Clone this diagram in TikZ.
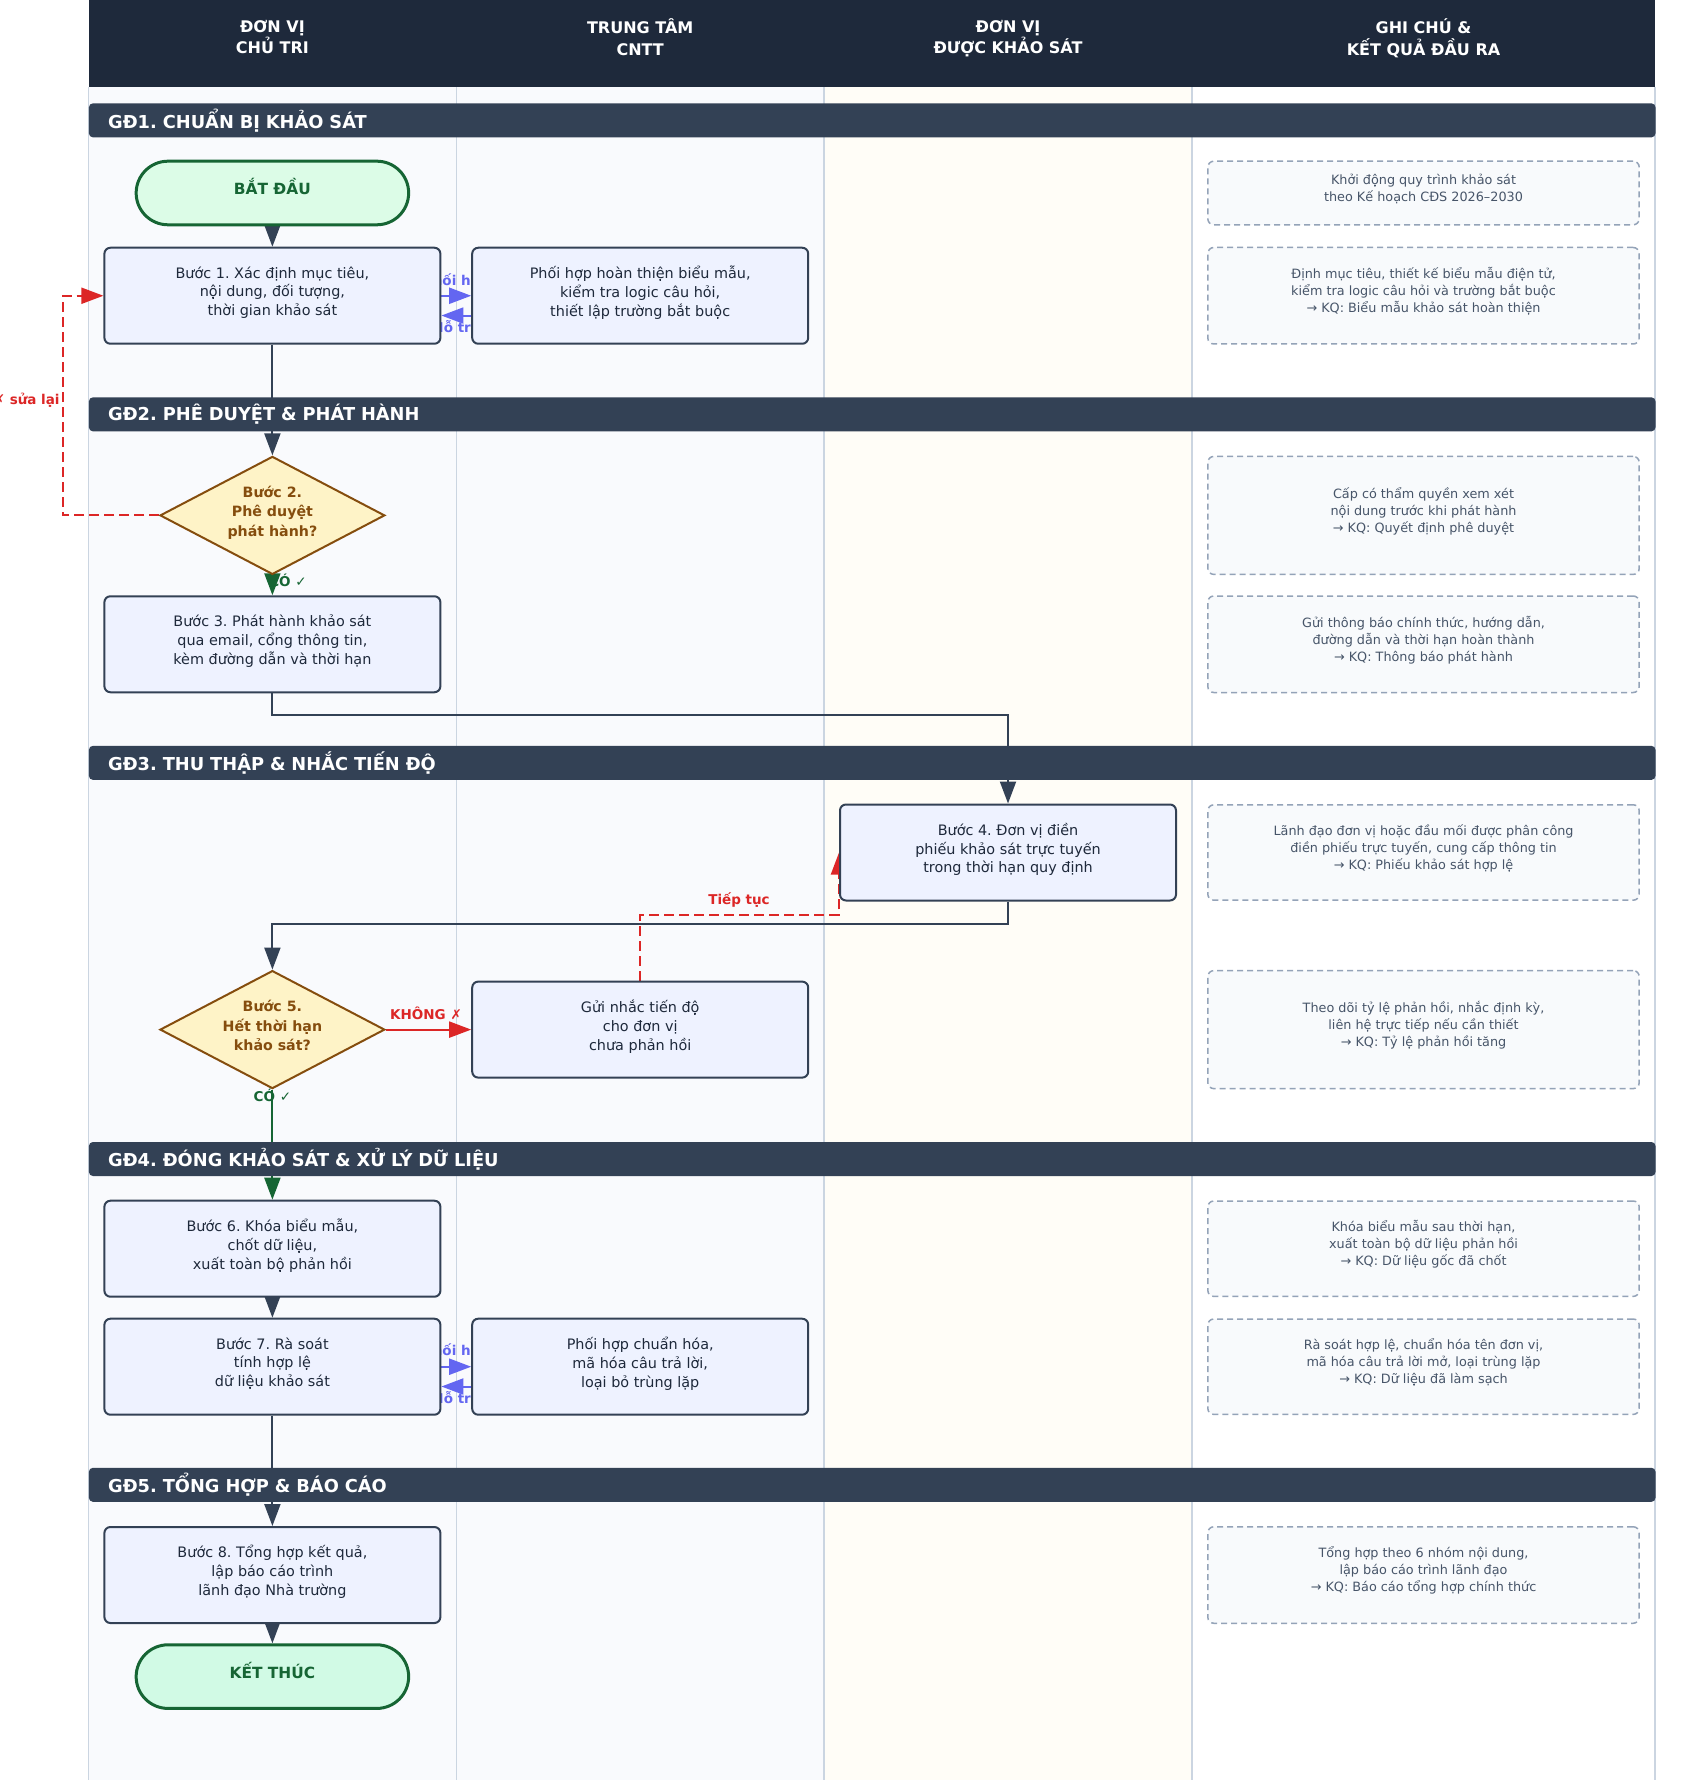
\documentclass[tikz,border=0pt]{standalone}
\usepackage{fontspec}
\setmainfont{DejaVu Sans}
\newfontfamily\symf{DejaVu Sans}
\usetikzlibrary{arrows.meta,shapes.geometric,calc}
\frenchspacing
\definecolor{hdr}{HTML}{1E293B}
\definecolor{barc}{HTML}{334155}
\definecolor{boxfill}{HTML}{EEF2FF}
\definecolor{boxline}{HTML}{334155}
\definecolor{boxtext}{HTML}{1E293B}
\definecolor{notefill}{HTML}{F8FAFC}
\definecolor{noteline}{HTML}{94A3B8}
\definecolor{notetext}{HTML}{475569}
\definecolor{decfill}{HTML}{FEF3C7}
\definecolor{decline}{HTML}{854D0E}
\definecolor{termfill}{HTML}{DCFCE7}
\definecolor{endfill}{HTML}{D1FAE5}
\definecolor{termline}{HTML}{166534}
\definecolor{xred}{HTML}{DC2626}
\definecolor{indi}{HTML}{6366F1}
\definecolor{lanebg}{HTML}{F9FAFD}
\definecolor{lanec}{HTML}{FFFDF7}
\definecolor{divider}{HTML}{CBD5E1}
\pgfdeclarelayer{lanes}
\pgfdeclarelayer{links}
\pgfsetlayers{lanes,links,main}
\begin{document}
\begin{tikzpicture}[x=0.5pt,y=-0.5pt,
  evenlines/.style 2 args={execute at begin node={\rule{0pt}{#1}},
    execute at end node={\rule[-#2]{0pt}{0pt}}},
  pbox/.style={evenlines={0pt}{4.6pt}, draw=boxline, fill=boxfill, line width=1pt, rounded corners=3pt,
    minimum width=168pt, minimum height=48pt, inner sep=0pt, align=center,
    text=boxtext, font=\fontsize{7.2}{9.4}\selectfont},
  note/.style={evenlines={0pt}{5.6pt}, draw=noteline, dash pattern=on 3pt off 2pt, fill=notefill, line width=0.75pt,
    rounded corners=3pt, minimum width=215.7pt, inner sep=0pt, align=center,
    text=notetext, font=\fontsize{6.4}{8.5}\selectfont},
  dec/.style={evenlines={0pt}{4.1pt}, diamond, shape aspect=1.9, draw=decline, fill=decfill, line width=1pt,
    minimum width=112.4pt, minimum height=59pt, inner sep=0pt, align=center,
    text=decline, font=\bfseries\fontsize{7.1}{9.65}\selectfont},
  term/.style={evenlines={7.5pt}{6.5pt}, draw=termline, fill=termfill, line width=1.5pt, rounded corners=15.9pt,
    minimum width=136.25pt, minimum height=31.8pt, inner sep=0pt,
    text=termline, font=\bfseries\fontsize{7.7}{9}\selectfont},
  phase/.style={fill=barc, rounded corners=2pt, anchor=west, minimum height=17pt,
    inner xsep=9.65pt, inner ysep=0pt, text width=764pt, align=left,
    text=white, font=\bfseries\fontsize{8.9}{10}\selectfont},
  head/.style={evenlines={7.5pt}{6.5pt}, align=center, inner sep=0pt, text=white, font=\bfseries\fontsize{8}{10.8}\selectfont},
  lbl/.style={font=\bfseries\fontsize{6.75}{8}\selectfont, inner sep=0pt},
  conn/.style={draw=barc, line width=1pt, -{Triangle[length=11pt,width=8pt]}},
  yesln/.style={draw=termline, line width=1pt, -{Triangle[length=11pt,width=8pt]}},
  nol/.style={draw=xred, line width=1pt, -{Triangle[length=11pt,width=8pt]}},
  nodash/.style={draw=xred, line width=1pt, dash pattern=on 5pt off 2.5pt, -{Triangle[length=11pt,width=8pt]}},
  coop/.style={draw=indi, line width=1pt, -{Triangle[length=11pt,width=8pt]}}
]
\useasboundingbox (0,0) rectangle (1688,1780);
\begin{pgfonlayer}{lanes}
  \fill[white] (0,0) rectangle (1688,1780);
  \fill[lanebg] (88.5,87.4) rectangle (824.1,1780);
  \fill[lanec] (824.1,87.4) rectangle (1191.9,1780);
  \fill[white] (1191.9,87.4) rectangle (1655.1,1780);
  \foreach \x in {88.5,456.3,824.1,1191.9,1655.1}
    \draw[divider, line width=0.75pt] (\x,87.4) -- (\x,1780);
  \fill[hdr] (88.5,0) rectangle (1655.1,87.4);
\end{pgfonlayer}

% header
\node[head] (h1) at (272.4,43.3) {ĐƠN VỊ\\CHỦ TRI};
\node[head] (h2) at (640.2,43.3) {TRUNG TÂM\\CNTT};
\node[head] (h3) at (1008,43.3) {ĐƠN VỊ\\ĐƯỢC KHẢO SÁT};
\node[head] (h4) at (1423.5,43.3) {GHI CHÚ \&\\KẾT QUẢ ĐẦU RA};

% phase bars
\node[phase] (g1) at (88.5,120.35) {GĐ1. CHUẨN BỊ KHẢO SÁT};
\node[phase] (g2) at (88.5,414.35) {GĐ2. PHÊ DUYỆT \& PHÁT HÀNH};
\node[phase] (g3) at (88.5,762.85) {GĐ3. THU THẬP \& NHẮC TIẾN ĐỘ};
\node[phase] (g4) at (88.5,1159) {GĐ4. ĐÓNG KHẢO SÁT \& XỬ LÝ DỮ LIỆU};
\node[phase] (g5) at (88.5,1484.8) {GĐ5. TỔNG HỢP \& BÁO CÁO};

% process nodes
\node[term] (start) at (272.4,193) {BẮT ĐẦU};
\node[pbox] (b1) at (272.4,295.75) {Bước 1. Xác định mục tiêu,\\nội dung, đối tượng,\\thời gian khảo sát};
\node[pbox] (c1) at (640.2,295.75) {Phối hợp hoàn thiện biểu mẫu,\\kiểm tra logic câu hỏi,\\thiết lập trường bắt buộc};
\node[dec] (d2) at (272.4,515.4) {Bước 2.\\Phê duyệt\\phát hành?};
\node[pbox] (b3) at (272.4,644.25) {Bước 3. Phát hành khảo sát\\qua email, cổng thông tin,\\kèm đường dẫn và thời hạn};
\node[pbox] (b4) at (1008,852.5) {Bước 4. Đơn vị điền\\phiếu khảo sát trực tuyến\\trong thời hạn quy định};
\node[dec] (d5) at (272.4,1029.6) {Bước 5.\\Hết thời hạn\\khảo sát?};
\node[pbox] (rm) at (640.2,1029.6) {Gửi nhắc tiến độ\\cho đơn vị\\chưa phản hồi};
\node[pbox] (b6) at (272.4,1248.7) {Bước 6. Khóa biểu mẫu,\\chốt dữ liệu,\\xuất toàn bộ phản hồi};
\node[pbox] (b7) at (272.4,1366.7) {Bước 7. Rà soát\\tính hợp lệ\\dữ liệu khảo sát};
\node[pbox] (c7) at (640.2,1366.7) {Phối hợp chuẩn hóa,\\mã hóa câu trả lời,\\loại bỏ trùng lặp};
\node[pbox] (b8) at (272.4,1575) {Bước 8. Tổng hợp kết quả,\\lập báo cáo trình\\lãnh đạo Nhà trường};
\node[term, fill=endfill] (end) at (272.4,1676.6) {KẾT THÚC};

% notes
\node[note, minimum height=31.8pt] (n0) at (1423.5,193) {Khởi động quy trình khảo sát\\theo Kế hoạch CĐS 2026–2030};
\node[note, minimum height=48.25pt] (n1) at (1423.5,295.75) {Định mục tiêu, thiết kế biểu mẫu điện tử,\\kiểm tra logic câu hỏi và trường bắt buộc\\→ KQ: Biểu mẫu khảo sát hoàn thiện};
\node[note, minimum height=59pt] (n2) at (1423.5,515.4) {Cấp có thẩm quyền xem xét\\nội dung trước khi phát hành\\→ KQ: Quyết định phê duyệt};
\node[note, minimum height=48.25pt] (n3) at (1423.5,644.25) {Gửi thông báo chính thức, hướng dẫn,\\đường dẫn và thời hạn hoàn thành\\→ KQ: Thông báo phát hành};
\node[note, minimum height=47.7pt] (n4) at (1423.5,852.5) {Lãnh đạo đơn vị hoặc đầu mối được phân công\\điền phiếu trực tuyến, cung cấp thông tin\\→ KQ: Phiếu khảo sát hợp lệ};
\node[note, minimum height=59pt] (n5) at (1423.5,1029.6) {Theo dõi tỷ lệ phản hồi, nhắc định kỳ,\\liên hệ trực tiếp nếu cần thiết\\→ KQ: Tỷ lệ phản hồi tăng};
\node[note, minimum height=47.7pt] (n6) at (1423.5,1248.7) {Khóa biểu mẫu sau thời hạn,\\xuất toàn bộ dữ liệu phản hồi\\→ KQ: Dữ liệu gốc đã chốt};
\node[note, minimum height=47.7pt] (n7) at (1423.5,1366.7) {Rà soát hợp lệ, chuẩn hóa tên đơn vị,\\mã hóa câu trả lời mở, loại trùng lặp\\→ KQ: Dữ liệu đã làm sạch};
\node[note, minimum height=48.25pt] (n8) at (1423.5,1575) {Tổng hợp theo 6 nhóm nội dung,\\lập báo cáo trình lãnh đạo\\→ KQ: Báo cáo tổng hợp chính thức};

\begin{pgfonlayer}{links}
  % labels under connectors
  \node[lbl, text=indi] (l1a) at (456.3,280.7) {Phối hợp};
  \node[lbl, text=indi] (l1b) at (456.3,328) {Hỗ trợ};
  \node[lbl, text=indi] (l7a) at (456.3,1351.5) {Phối hợp};
  \node[lbl, text=indi] (l7b) at (456.3,1399) {Hỗ trợ};
  \node[lbl, text=termline] (lyes2) at (288,580) {CÓ {\symf\mdseries ✓}};
  \node[lbl, text=termline] (lyes5) at (272.4,1095) {CÓ {\symf\mdseries ✓}};
  \node[lbl, text=xred] (lno5) at (426,1013.7) {KHÔNG {\symf\mdseries ✗}};
  \node[lbl, text=xred] (lcont) at (739,900) {Tiếp tục};
  \node[lbl, text=xred, anchor=east] (lfix) at (60,400) {{\symf\mdseries ✗} sửa lại};
  % connectors
  \draw[conn] (start.south) -- (b1.north);
  \draw[conn] (b1.south) -- (d2.north);
  \draw[yesln] (d2.south) -- (b3.north);
  \draw[conn] (b3.south) -- ++(0,21.5) -| (b4.north);
  \draw[conn] (b4.south) -- ++(0,22.7) -| (d5.north);
  \draw[nol] (d5.east) -- (rm.west);
  \draw[nodash] (rm.north) -- ++(0,-66) -| (b4.west);
  \draw[nodash] (d2.west) -- ++(-96.4,0) |- (b1.west);
  \draw[yesln] (d5.south) -- (b6.north);
  \draw[conn] (b6.south) -- (b7.north);
  \draw[conn] (b7.south) -- (b8.north);
  \draw[conn] (b8.south) -- (end.north);
  \draw[coop] (b1.east) -- (c1.west);
  \draw[coop] ([yshift=-9.9pt]c1.west) -- ([yshift=-9.9pt]b1.east);
  \draw[coop] (b7.east) -- (c7.west);
  \draw[coop] ([yshift=-9.9pt]c7.west) -- ([yshift=-9.9pt]b7.east);
\end{pgfonlayer}
\end{tikzpicture}
\end{document}
